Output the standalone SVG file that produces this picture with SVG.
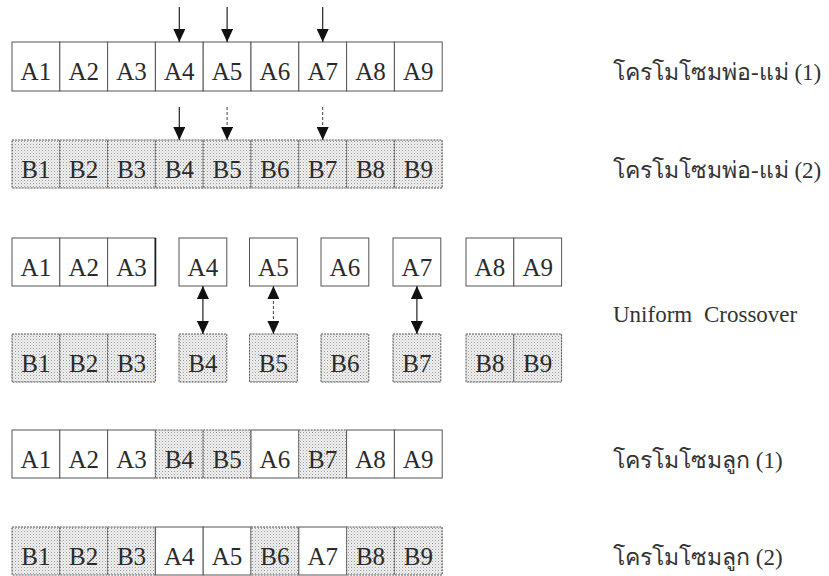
<svg xmlns="http://www.w3.org/2000/svg" width="829" height="576" viewBox="0 0 829 576">
<style>
.a{fill:#fff;stroke:#555;stroke-width:1}
.b{fill:url(#dots);stroke:#555;stroke-width:1;stroke-dasharray:2 1}
.t{font-size:25px;fill:#2a2a2a;text-anchor:middle}
.lbl{font-size:23px;fill:#333}
.ar{stroke:#222;stroke-width:1.2;fill:none}
.ad{stroke:#444;stroke-width:1;stroke-dasharray:3 2;fill:none}
</style>
<defs>
<pattern id="dots" width="3" height="3" patternUnits="userSpaceOnUse"><rect width="3" height="3" fill="#efefef"/><rect width="1" height="1" fill="#9a9a9a"/><rect x="1.5" y="1.5" width="1" height="1" fill="#c4c4c4"/></pattern>
<marker id="ah" viewBox="0 0 13 12" refX="13" refY="6" markerWidth="13" markerHeight="12" markerUnits="userSpaceOnUse" orient="auto-start-reverse"><path d="M0,0 L13,6 L0,12 z" fill="#111"/></marker>
</defs>
<rect width="829" height="576" fill="#fff"/>
<g font-family="'Times New Roman', 'Liberation Serif', Tinos, 'DejaVu Serif', serif">
<g id="parent1">
<rect class="a" x="12" y="42" width="47.8" height="49"/><text class="t" x="35.9" y="80">A1</text>
<rect class="a" x="59.8" y="42" width="47.8" height="49"/><text class="t" x="83.7" y="80">A2</text>
<rect class="a" x="107.6" y="42" width="47.8" height="49"/><text class="t" x="131.5" y="80">A3</text>
<rect class="a" x="155.4" y="42" width="47.8" height="49"/><text class="t" x="179.3" y="80">A4</text>
<rect class="a" x="203.2" y="42" width="47.8" height="49"/><text class="t" x="227.1" y="80">A5</text>
<rect class="a" x="251" y="42" width="47.8" height="49"/><text class="t" x="274.9" y="80">A6</text>
<rect class="a" x="298.8" y="42" width="47.8" height="49"/><text class="t" x="322.7" y="80">A7</text>
<rect class="a" x="346.6" y="42" width="47.8" height="49"/><text class="t" x="370.5" y="80">A8</text>
<rect class="a" x="394.4" y="42" width="47.8" height="49"/><text class="t" x="418.3" y="80">A9</text>
</g>
<g id="label-parent1"><text class="lbl" x="613" y="80">โครโมโซมพ่อ-แม่ (1)</text></g>

<g id="parent2">
<rect class="b" x="12" y="140" width="47.8" height="48"/><text class="t" x="35.9" y="178">B1</text>
<rect class="b" x="59.8" y="140" width="47.8" height="48"/><text class="t" x="83.7" y="178">B2</text>
<rect class="b" x="107.6" y="140" width="47.8" height="48"/><text class="t" x="131.5" y="178">B3</text>
<rect class="b" x="155.4" y="140" width="47.8" height="48"/><text class="t" x="179.3" y="178">B4</text>
<rect class="b" x="203.2" y="140" width="47.8" height="48"/><text class="t" x="227.1" y="178">B5</text>
<rect class="b" x="251" y="140" width="47.8" height="48"/><text class="t" x="274.9" y="178">B6</text>
<rect class="b" x="298.8" y="140" width="47.8" height="48"/><text class="t" x="322.7" y="178">B7</text>
<rect class="b" x="346.6" y="140" width="47.8" height="48"/><text class="t" x="370.5" y="178">B8</text>
<rect class="b" x="394.4" y="140" width="47.8" height="48"/><text class="t" x="418.3" y="178">B9</text>
</g>
<g id="label-parent2"><text class="lbl" x="613" y="178">โครโมโซมพ่อ-แม่ (2)</text></g>

<g id="splitA">
<rect class="a" x="12" y="238" width="47.8" height="48"/><text class="t" x="35.9" y="276">A1</text>
<rect class="a" x="59.8" y="238" width="47.8" height="48"/><text class="t" x="83.7" y="276">A2</text>
<rect class="a" x="107.6" y="238" width="47.8" height="48"/><text class="t" x="131.5" y="276">A3</text>
<line x1="155.4" y1="238" x2="155.4" y2="286" stroke="#222" stroke-width="1.8"/>
<rect class="a" x="179" y="238" width="47.8" height="48"/><text class="t" x="202.9" y="276">A4</text>
<rect class="a" x="249.5" y="238" width="47.8" height="48"/><text class="t" x="273.4" y="276">A5</text>
<rect class="a" x="321" y="238" width="47.8" height="48"/><text class="t" x="344.9" y="276">A6</text>
<rect class="a" x="393" y="238" width="47.8" height="48"/><text class="t" x="416.9" y="276">A7</text>
<rect class="a" x="466" y="238" width="47.8" height="48"/><text class="t" x="489.9" y="276">A8</text>
<rect class="a" x="513.8" y="238" width="47.8" height="48"/><text class="t" x="537.7" y="276">A9</text>
</g>

<g id="splitB">
<rect class="b" x="12" y="334" width="47.8" height="48"/><text class="t" x="35.9" y="372">B1</text>
<rect class="b" x="59.8" y="334" width="47.8" height="48"/><text class="t" x="83.7" y="372">B2</text>
<rect class="b" x="107.6" y="334" width="47.8" height="48"/><text class="t" x="131.5" y="372">B3</text>
<rect class="b" x="179" y="334" width="47.8" height="48"/><text class="t" x="202.9" y="372">B4</text>
<rect class="b" x="249.5" y="334" width="47.8" height="48"/><text class="t" x="273.4" y="372">B5</text>
<rect class="b" x="321" y="334" width="47.8" height="48"/><text class="t" x="344.9" y="372">B6</text>
<rect class="b" x="393" y="334" width="47.8" height="48"/><text class="t" x="416.9" y="372">B7</text>
<rect class="b" x="466" y="334" width="47.8" height="48"/><text class="t" x="489.9" y="372">B8</text>
<rect class="b" x="513.8" y="334" width="47.8" height="48"/><text class="t" x="537.7" y="372">B9</text>
</g>
<g id="label-uniform"><text class="lbl" x="613" y="322" font-size="24" word-spacing="6">Uniform Crossover</text></g>

<g id="child1">
<rect class="a" x="12" y="430" width="47.8" height="48"/><text class="t" x="35.9" y="468">A1</text>
<rect class="a" x="59.8" y="430" width="47.8" height="48"/><text class="t" x="83.7" y="468">A2</text>
<rect class="a" x="107.6" y="430" width="47.8" height="48"/><text class="t" x="131.5" y="468">A3</text>
<rect class="b" x="155.4" y="430" width="47.8" height="48"/><text class="t" x="179.3" y="468">B4</text>
<rect class="b" x="203.2" y="430" width="47.8" height="48"/><text class="t" x="227.1" y="468">B5</text>
<rect class="a" x="251" y="430" width="47.8" height="48"/><text class="t" x="274.9" y="468">A6</text>
<rect class="b" x="298.8" y="430" width="47.8" height="48"/><text class="t" x="322.7" y="468">B7</text>
<rect class="a" x="346.6" y="430" width="47.8" height="48"/><text class="t" x="370.5" y="468">A8</text>
<rect class="a" x="394.4" y="430" width="47.8" height="48"/><text class="t" x="418.3" y="468">A9</text>
</g>
<g id="label-child1"><text class="lbl" x="613" y="468">โครโมโซมลูก (1)</text></g>

<g id="child2">
<rect class="b" x="12" y="527" width="47.8" height="48"/><text class="t" x="35.9" y="565">B1</text>
<rect class="b" x="59.8" y="527" width="47.8" height="48"/><text class="t" x="83.7" y="565">B2</text>
<rect class="b" x="107.6" y="527" width="47.8" height="48"/><text class="t" x="131.5" y="565">B3</text>
<rect class="a" x="155.4" y="527" width="47.8" height="48"/><text class="t" x="179.3" y="565">A4</text>
<rect class="a" x="203.2" y="527" width="47.8" height="48"/><text class="t" x="227.1" y="565">A5</text>
<rect class="b" x="251" y="527" width="47.8" height="48"/><text class="t" x="274.9" y="565">B6</text>
<rect class="a" x="298.8" y="527" width="47.8" height="48"/><text class="t" x="322.7" y="565">A7</text>
<rect class="b" x="346.6" y="527" width="47.8" height="48"/><text class="t" x="370.5" y="565">B8</text>
<rect class="b" x="394.4" y="527" width="47.8" height="48"/><text class="t" x="418.3" y="565">B9</text>
</g>
<g id="label-child2"><text class="lbl" x="613" y="565">โครโมโซมลูก (2)</text></g>
</g>
<g id="connectors">
<line class="ar" x1="179.3" y1="7" x2="179.3" y2="42" marker-end="url(#ah)"/>
<line class="ar" x1="227.1" y1="7" x2="227.1" y2="42" marker-end="url(#ah)"/>
<line class="ar" x1="322.7" y1="7" x2="322.7" y2="42" marker-end="url(#ah)"/>
<line class="ar" x1="179.3" y1="107" x2="179.3" y2="140" marker-end="url(#ah)"/>
<line class="ad" x1="227.1" y1="107" x2="227.1" y2="140" marker-end="url(#ah)"/>
<line class="ad" x1="322.7" y1="107" x2="322.7" y2="140" marker-end="url(#ah)"/>
<line class="ar" x1="202.9" y1="286" x2="202.9" y2="334" marker-start="url(#ah)" marker-end="url(#ah)"/>
<line class="ad" x1="273.4" y1="286" x2="273.4" y2="334" marker-start="url(#ah)" marker-end="url(#ah)"/>
<line class="ar" x1="416.9" y1="286" x2="416.9" y2="334" marker-start="url(#ah)" marker-end="url(#ah)"/>
</g>
</svg>
